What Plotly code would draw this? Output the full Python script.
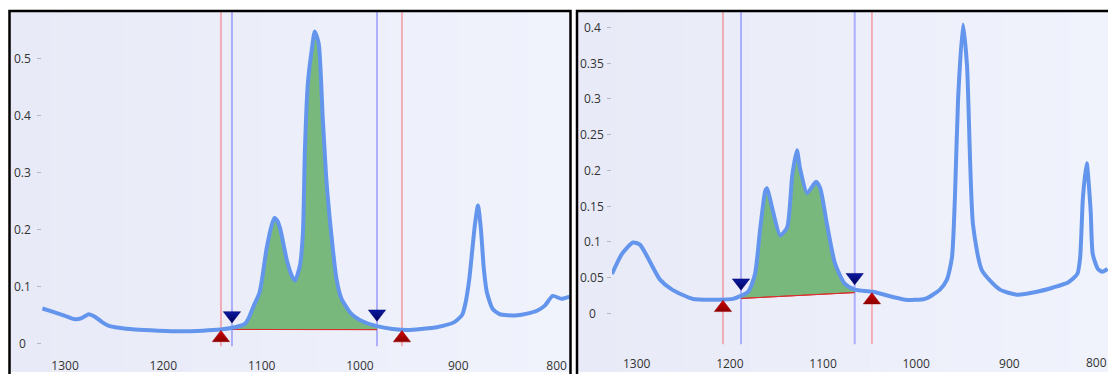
import numpy as np
import plotly.graph_objects as go

# ---------------- data ----------------
left_wn = [1323, 1312, 1300, 1290, 1283, 1276, 1270, 1263, 1256, 1245,
           1229, 1205, 1183, 1160, 1142, 1130, 1117, 1113, 1109, 1102,
           1095, 1090, 1087, 1084, 1081, 1074, 1069, 1066, 1061, 1058,
           1056, 1053, 1049, 1046, 1042, 1038, 1034, 1028, 1024, 1019,
           1009, 997, 983, 967, 951, 937, 922, 904, 896, 893,
           889, 886, 883, 880, 877, 874, 871, 865, 858, 850,
           840, 830, 820, 812, 804, 795, 787]
left_abs = [0.061, 0.055, 0.048, 0.042, 0.044, 0.051, 0.047, 0.038, 0.031, 0.027,
            0.024, 0.022, 0.021, 0.022, 0.024, 0.027, 0.034, 0.045, 0.062, 0.09,
            0.166, 0.206, 0.22, 0.215, 0.2, 0.143, 0.117, 0.11, 0.137, 0.195,
            0.34, 0.457, 0.516, 0.548, 0.527, 0.4, 0.283, 0.172, 0.114, 0.079,
            0.052, 0.038, 0.03, 0.025, 0.023, 0.025, 0.028, 0.037, 0.05, 0.068,
            0.11, 0.16, 0.21, 0.242, 0.2, 0.13, 0.09, 0.06, 0.051, 0.049,
            0.049, 0.052, 0.057, 0.066, 0.083, 0.078, 0.082]

right_wn = [1326.5, 1315.8, 1304, 1296.5, 1275, 1262, 1239.5, 1213.8, 1196.6, 1180.5,
            1173, 1167.6, 1162, 1160, 1154.7, 1146, 1138.5, 1133, 1128, 1124.7,
            1117, 1107.6, 1103, 1095.7, 1087, 1076.5, 1066, 1046.6, 1012, 990.6,
            974.5, 967, 961.6, 958.4, 955, 949.7, 945.4, 939, 929.4, 910,
            892, 870.3, 853, 837, 827, 824, 821, 817, 812.7, 810.5,
            805, 800, 794.6]
right_abs = [0.055, 0.083, 0.099, 0.096, 0.047, 0.033, 0.020, 0.019, 0.020, 0.030,
             0.055, 0.116, 0.171, 0.175, 0.148, 0.109, 0.12, 0.193, 0.228, 0.203,
             0.168, 0.184, 0.175, 0.124, 0.069, 0.041, 0.033, 0.030, 0.019, 0.020,
             0.033, 0.047, 0.078, 0.162, 0.30, 0.404, 0.346, 0.124, 0.06, 0.033,
             0.026, 0.030, 0.036, 0.043, 0.055, 0.078, 0.162, 0.21, 0.143, 0.083,
             0.062, 0.058, 0.062]

left_red = [1141.4, 957.3]     # baseline anchor limits
left_blue = [1130.2, 982.7]    # integration limits
right_red = [1207.4, 1047.5]
right_blue = [1188.0, 1066.0]

x_ticks = [1300, 1200, 1100, 1000, 900, 800]
left_y_ticks = [0, 0.1, 0.2, 0.3, 0.4, 0.5]
left_y_labels = ["0", "0.1", "0.2", "0.3", "0.4", "0.5"]
right_y_ticks = [0, 0.05, 0.1, 0.15, 0.2, 0.25, 0.3, 0.35, 0.4]
right_y_labels = ["0", "0.05", "0.1", "0.15", "0.2", "0.25", "0.3", "0.35", "0.4"]

# ---------------- layout geometry (pixels) ----------------
W, H = 1108, 374
FONT = "Open Sans, Noto Sans, sans-serif"
FS = 12
panels = [
    dict(wn=left_wn, ab=left_abs, red=left_red, blue=left_blue,
         yt=left_y_ticks, yl=left_y_labels,
         box=(9.5, 570.5), plot_x=(42, 570), plot_y=(12, 348),
         xr=(1323.4, 786.4), yr=(-0.0052, 0.5822), label_x=22, ax=""),
    dict(wn=right_wn, ab=right_abs, red=right_red, blue=right_blue,
         yt=right_y_ticks, yl=right_y_labels,
         box=(577, 1120), plot_x=(612, 1108), plot_y=(12, 346),
         xr=(1326.5, 794.1), yr=(-0.0433, 0.4217), label_x=592, ax="2"),
]

fig = go.Figure()
shapes = []
annotations = []

c0 = np.array([232, 234, 247])
c1 = np.array([240, 243, 252])

for p in panels:
    bx0, bx1 = p["box"]
    n = 40
    edges = np.linspace(bx0, min(bx1, W + 2), n + 1)
    for i in range(n):
        t = i / (n - 1)
        c = (c0 + (c1 - c0) * t).round().astype(int)
        shapes.append(dict(type="rect", xref="paper", yref="paper",
                           x0=edges[i] / W, x1=edges[i + 1] / W + 0.5 / W,
                           y0=0, y1=1 - 11 / H, line=dict(width=0),
                           fillcolor=f"rgb({c[0]},{c[1]},{c[2]})", layer="below"))

for p in panels:
    ax = p["ax"]
    xref = "x" + ax
    yref = "y" + ax
    xa = np.array(p["wn"])[::-1]
    ya = np.array(p["ab"])[::-1]
    curve = lambda v: float(np.interp(v, xa, ya))
    ppu = (p["plot_y"][1] - p["plot_y"][0]) / (p["yr"][1] - p["yr"][0])

    r0, r1 = p["red"]
    yb0, yb1 = curve(r0), curve(r1)
    base = lambda v: yb0 + (yb1 - yb0) * (v - r0) / (r1 - r0)
    b_hi, b_lo = max(p["blue"]), min(p["blue"])
    inside = [(x, y) for x, y in zip(p["wn"], p["ab"]) if b_lo < x < b_hi]
    seg_x = [b_hi] + [q[0] for q in inside] + [b_lo]
    seg_y = [curve(b_hi)] + [q[1] for q in inside] + [curve(b_lo)]

    for v in p["red"]:
        shapes.append(dict(type="line", xref=xref, yref=yref + " domain", x0=v, x1=v,
                           y0=0, y1=1, line=dict(color="rgba(255,0,0,0.27)", width=2),
                           layer="below"))
    for v in p["blue"]:
        shapes.append(dict(type="line", xref=xref, yref=yref + " domain", x0=v, x1=v,
                           y0=0, y1=1, line=dict(color="rgba(0,0,255,0.27)", width=2),
                           layer="below"))

    fig.add_trace(go.Scatter(x=[b_hi, b_lo], y=[base(b_hi), base(b_lo)], mode="lines",
                             line=dict(color="#e02020", width=1),
                             xaxis=xref, yaxis=yref, showlegend=False))
    fig.add_trace(go.Scatter(x=seg_x, y=seg_y, mode="lines", fill="tonexty",
                             fillcolor="#78b87c",
                             line=dict(width=0, shape="spline", smoothing=0.6),
                             xaxis=xref, yaxis=yref, hoverinfo="skip", showlegend=False))
    fig.add_trace(go.Scatter(x=[b_hi, b_lo], y=[base(b_hi), base(b_lo)], mode="lines",
                             line=dict(color="#d83030", width=1),
                             xaxis=xref, yaxis=yref, showlegend=False))
    fig.add_trace(go.Scatter(x=p["wn"], y=p["ab"], mode="lines",
                             line=dict(color="#6495ED", width=4, shape="spline",
                                       smoothing=0.6),
                             xaxis=xref, yaxis=yref, showlegend=False))
    fig.add_trace(go.Scatter(x=p["red"], y=[curve(v) - 8.5 / ppu for v in p["red"]],
                             mode="markers", cliponaxis=False,
                             marker=dict(symbol="triangle-up", size=15, color="#d00000",
                                         gradient=dict(type="vertical", color="#8a0000"),
                                         line=dict(width=0.5, color="#a00000")),
                             xaxis=xref, yaxis=yref, showlegend=False))
    fig.add_trace(go.Scatter(x=p["blue"], y=[curve(v) + 12.5 / ppu for v in p["blue"]],
                             mode="markers", cliponaxis=False,
                             marker=dict(symbol="triangle-down", size=15, color="#0a1aa0",
                                         gradient=dict(type="vertical", color="#00005c"),
                                         line=dict(width=0.5, color="#000070")),
                             xaxis=xref, yaxis=yref, showlegend=False))

    for v, lab in zip(p["yt"], p["yl"]):
        annotations.append(dict(x=p["label_x"] / W, xref="paper", y=v, yref=yref,
                                text=lab, showarrow=False, xanchor="center",
                                yanchor="middle",
                                font=dict(family=FONT, size=FS, color="#333333")))

    shapes.append(dict(type="rect", xref="paper", yref="paper",
                       x0=p["box"][0] / W, x1=p["box"][1] / W, y0=-0.1, y1=1 - 11 / H,
                       line=dict(color="black", width=2.5), layer="above"))

    xd = [p["plot_x"][0] / W, p["plot_x"][1] / W]
    yd = [1 - p["plot_y"][1] / H, 1 - p["plot_y"][0] / H]
    xkey = "xaxis" + ax
    ykey = "yaxis" + ax
    fig.update_layout(**{
        xkey: dict(domain=xd, range=list(p["xr"]), anchor="y" + ax, tickvals=x_ticks,
                   ticks="outside", ticklen=8, tickcolor="rgba(0,0,0,0)",
                   showgrid=False, zeroline=False, showline=False,
                   tickfont=dict(family=FONT, size=FS, color="#333333")),
        ykey: dict(domain=yd, range=list(p["yr"]), anchor="x" + ax, tickvals=p["yt"],
                   ticks="outside", ticklen=4, tickcolor="#b8b8b8", tickwidth=1,
                   showticklabels=False, showgrid=False, zeroline=False, showline=False),
    })

# the last tick label of the right panel sits on the figure edge; plotly hides it,
# so place it as text flush with the right edge
annotations.append(dict(x=1.0, xref="paper", y=1 - 364 / H, yref="paper",
                        text=str(x_ticks[-1]), showarrow=False, xanchor="right",
                        yanchor="middle", xshift=1,
                        font=dict(family=FONT, size=FS, color="#333333")))

fig.update_layout(width=W, height=H, margin=dict(l=0, r=0, t=0, b=0),
                  paper_bgcolor="white", plot_bgcolor="rgba(0,0,0,0)",
                  shapes=shapes, annotations=annotations, showlegend=False,
                  font=dict(family=FONT))
fig.write_html(
    "out.html", config={"displayModeBar": False},
    post_script="document.body.style.margin='0';document.body.style.overflow='hidden';")
